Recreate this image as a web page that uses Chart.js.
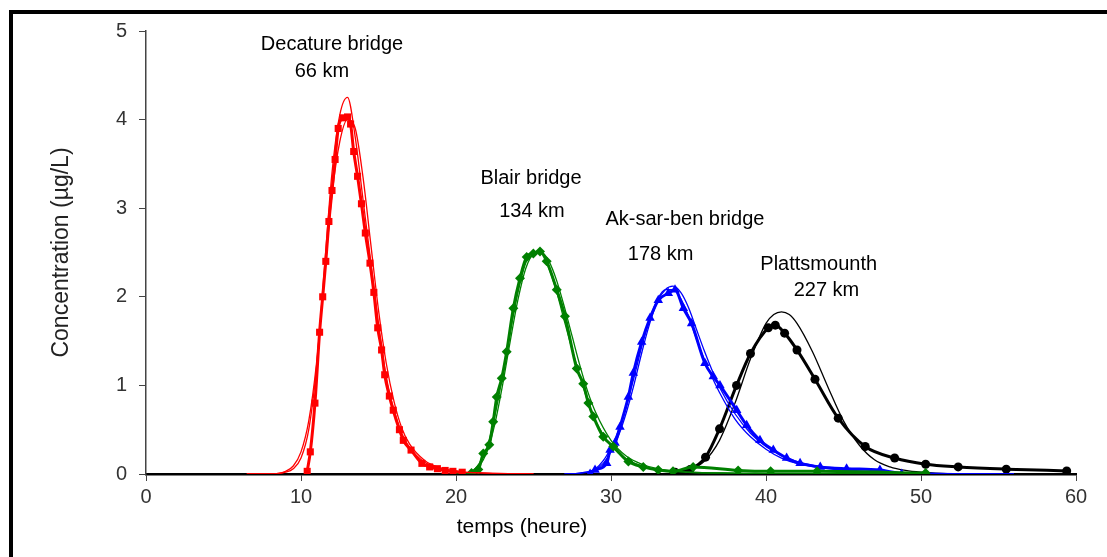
<!DOCTYPE html>
<html>
<head>
<meta charset="utf-8">
<script src="https://cdn.jsdelivr.net/npm/chart.js@4/dist/chart.umd.min.js"></script>
<style>
  body { margin: 0; background: #fff; }
  #wrap { position: relative; width: 1107px; height: 557px; overflow: hidden; }
  #cadre { position: absolute; left: 9px; top: 10px; width: 1200px; height: 700px;
           border-left: 4px solid #000; border-top: 4px solid #000; }
  #concChart { position: absolute; left: 0; top: 0; }
</style>
</head>
<body>
<div id="wrap">
  <div id="cadre"></div>
  <canvas id="concChart" width="1107" height="557"></canvas>
</div>
<script>
//Decature bridge (66 km) - mesures
const decTemps = [10.4, 10.6, 10.9, 11.2, 11.4, 11.6, 11.8, 12.0, 12.2, 12.4, 12.7, 13.0, 13.2, 13.4, 13.65, 13.9, 14.15, 14.45, 14.7, 14.95, 15.2, 15.4, 15.7, 15.95, 16.35, 16.6, 17.1, 17.8, 18.3, 18.8, 19.3, 19.8, 20.4];
const decConc = [0.03, 0.25, 0.8, 1.6, 2.0, 2.4, 2.85, 3.2, 3.55, 3.9, 4.02, 4.03, 3.95, 3.64, 3.36, 3.05, 2.72, 2.38, 2.05, 1.65, 1.4, 1.12, 0.88, 0.72, 0.5, 0.38, 0.27, 0.12, 0.08, 0.06, 0.04, 0.03, 0.02];
//Decature bridge - modeles
const decModTemps = [6.5, 8, 9, 9.5, 10, 10.5, 11, 11.5, 12, 12.5, 13, 13.5, 14, 14.5, 15, 15.5, 16, 16.5, 17, 18, 19, 20, 22, 25];
const decModA = [0, 0, 0.02, 0.06, 0.18, 0.5, 1.2, 2.3, 3.4, 4.05, 4.25, 3.8, 3.1, 2.4, 1.7, 1.1, 0.72, 0.46, 0.3, 0.13, 0.06, 0.03, 0.01, 0];
const decModB = [0, 0, 0.03, 0.09, 0.25, 0.6, 1.25, 2.2, 3.15, 3.75, 4.0, 3.9, 3.35, 2.6, 1.85, 1.25, 0.82, 0.52, 0.34, 0.15, 0.07, 0.03, 0.01, 0];

//Blair bridge (134 km)
const blairTemps = [21.0, 21.44, 21.76, 22.15, 22.4, 22.63, 22.95, 23.27, 23.7, 24.13, 24.56, 24.99, 25.42, 25.85, 26.5, 27.03, 27.79, 28.21, 28.54, 28.86, 29.5, 30.15, 31.12, 32.08, 33.05, 34.0, 35.3, 38.2, 40.3, 43.3, 50.3];
const blairConc = [0.01, 0.05, 0.23, 0.33, 0.59, 0.87, 1.08, 1.38, 1.87, 2.21, 2.45, 2.49, 2.51, 2.4, 2.08, 1.78, 1.19, 1.02, 0.8, 0.65, 0.42, 0.31, 0.14, 0.08, 0.045, 0.03, 0.08, 0.04, 0.03, 0.03, 0.01];
const blairModTemps = [20, 21, 21.5, 22, 22.5, 23, 23.5, 24, 24.5, 25, 25.5, 26, 26.5, 27, 27.5, 28, 28.5, 29, 30, 31, 32, 33, 35, 38, 42, 50];
const blairModA = [0, 0.03, 0.12, 0.3, 0.65, 1.1, 1.6, 2.05, 2.38, 2.5, 2.5, 2.32, 2.05, 1.72, 1.4, 1.1, 0.82, 0.6, 0.32, 0.17, 0.09, 0.05, 0.02, 0.01, 0, 0];
const blairModB = [0, 0.02, 0.09, 0.25, 0.56, 1.0, 1.5, 1.97, 2.32, 2.48, 2.5, 2.4, 2.18, 1.88, 1.55, 1.22, 0.93, 0.7, 0.38, 0.2, 0.11, 0.06, 0.02, 0.01, 0, 0];

//Ak-sar-ben bridge (178 km)
const aksarTemps = [28.65, 28.97, 29.72, 29.94, 30.26, 30.58, 31.12, 31.44, 31.98, 32.52, 33.05, 33.7, 34.13, 34.67, 35.2, 36.06, 36.6, 37.03, 38.11, 38.75, 39.61, 40.47, 41.33, 42.2, 43.5, 45.2, 47.35, 48.75];
const aksarConc = [0.0, 0.045, 0.12, 0.27, 0.35, 0.53, 0.87, 1.14, 1.49, 1.76, 1.96, 2.04, 2.08, 1.87, 1.7, 1.25, 1.1, 1.0, 0.72, 0.55, 0.38, 0.27, 0.18, 0.12, 0.08, 0.06, 0.045, 0.0];
const aksarModTemps = [27, 28, 29, 29.5, 30, 30.5, 31, 31.5, 32, 32.5, 33, 33.5, 34, 34.5, 35, 35.5, 36, 36.5, 37, 38, 39, 40, 41, 42, 44, 46, 50, 56];
const aksarModA = [0, 0.01, 0.06, 0.15, 0.3, 0.5, 0.78, 1.1, 1.45, 1.75, 1.97, 2.08, 2.08, 1.98, 1.78, 1.53, 1.3, 1.1, 0.92, 0.62, 0.42, 0.28, 0.18, 0.12, 0.06, 0.03, 0.01, 0];
const aksarModB = [0, 0.01, 0.05, 0.12, 0.25, 0.44, 0.7, 1.02, 1.38, 1.7, 1.95, 2.08, 2.12, 2.05, 1.88, 1.64, 1.4, 1.18, 0.98, 0.68, 0.46, 0.31, 0.21, 0.14, 0.07, 0.035, 0.01, 0];

//Plattsmounth (227 km)
const plattTemps = [34.13, 35.1, 36.1, 37.0, 38.1, 39.0, 40.15, 40.6, 41.2, 42.0, 43.16, 44.66, 46.4, 48.3, 50.3, 52.4, 55.5, 59.4];
const plattConc = [0.02, 0.05, 0.19, 0.51, 1.0, 1.36, 1.65, 1.68, 1.59, 1.4, 1.07, 0.63, 0.31, 0.18, 0.11, 0.08, 0.055, 0.035];
const plattModTemps = [33, 34, 35, 36, 37, 38, 39, 40, 40.5, 41, 41.5, 42, 43, 44, 45, 46, 47, 48, 49, 50, 52];
const plattModA = [0, 0, 0.04, 0.14, 0.38, 0.8, 1.3, 1.7, 1.8, 1.83, 1.8, 1.7, 1.38, 0.98, 0.6, 0.33, 0.16, 0.08, 0.04, 0.02, 0];

//Etiquettes des stations
const etiquettes = ["Decature bridge", "66 km", "Blair bridge", "134 km", "Ak-sar-ben bridge", "178 km", "Plattsmounth", "227 km"];
const etiqTemps = [12.0, 11.35, 24.84, 24.9, 34.77, 33.2, 43.4, 43.9];
const etiqConc = [4.85, 4.54, 3.34, 2.96, 2.87, 2.48, 2.37, 2.07];

const xTicks = [0, 10, 20, 30, 40, 50, 60];
const yTicks = [0, 1, 2, 3, 4, 5];

const police = "'Liberation Sans', Arial, sans-serif";

function toPoints(temps, conc) {
  return temps.map((t, i) => ({ x: t, y: conc[i] }));
}

function mesures(temps, conc, color, style, rayon) {
  return {
    data: toPoints(temps, conc),
    showLine: true,
    borderColor: color,
    backgroundColor: color,
    borderWidth: 3,
    pointStyle: style,
    pointRadius: rayon,
    pointBorderWidth: 0,
    cubicInterpolationMode: "monotone",
  };
}

function modele(temps, conc, color) {
  return {
    data: toPoints(temps, conc),
    showLine: true,
    borderColor: color,
    borderWidth: 1.3,
    pointRadius: 0,
    cubicInterpolationMode: "monotone",
  };
}

//Textes des stations + titre de l'axe x
const textes = {
  id: "textes",
  afterDatasetsDraw(chart) {
    const ctx = chart.ctx;
    const xs = chart.scales.x;
    const ys = chart.scales.y;
    ctx.save();
    ctx.fillStyle = "#000";
    ctx.font = "20px " + police;
    ctx.textAlign = "center";
    ctx.textBaseline = "middle";
    etiquettes.forEach((txt, i) => {
      ctx.fillText(txt, xs.getPixelForValue(etiqTemps[i]), ys.getPixelForValue(etiqConc[i]));
    });
    ctx.font = "21px " + police;
    ctx.fillText("temps (heure)", chart.chartArea.left + 376, chart.chartArea.bottom + 53);
    ctx.restore();
  },
};

const datasets = [
  modele(decModTemps, decModA, "#ff0000"),
  modele(decModTemps, decModB, "#ff0000"),
  mesures(decTemps, decConc, "#ff0000", "rect", 5),
  modele(blairModTemps, blairModA, "#008000"),
  modele(blairModTemps, blairModB, "#008000"),
  mesures(blairTemps, blairConc, "#008000", "rectRot", 5),
  modele(aksarModTemps, aksarModA, "#0000ff"),
  modele(aksarModTemps, aksarModB, "#0000ff"),
  mesures(aksarTemps, aksarConc, "#0000ff", "triangle", 5.5),
  modele(plattModTemps, plattModA, "#000000"),
  mesures(plattTemps, plattConc, "#000000", "circle", 4.5),
];

new Chart("concChart", {
  type: "scatter",
  data: { datasets },
  options: {
    responsive: false,
    animation: false,
    devicePixelRatio: 1,
    layout: { padding: { top: 31, right: 31, bottom: 0, left: 0 } },
    plugins: { legend: { display: false }, tooltip: { enabled: false } },
    scales: {
      x: {
        type: "linear",
        min: 0,
        max: 60,
        afterBuildTicks: (scale) => { scale.ticks = xTicks.map((v) => ({ value: v })); },
        afterFit: (scale) => { scale.height = 83; },
        grid: { drawOnChartArea: false, tickLength: 7, color: "#444" },
        border: { color: "#000", width: 2.5 },
        ticks: { color: "#333", padding: 4, maxRotation: 0, font: { family: police, size: 20 } },
      },
      y: {
        type: "linear",
        min: 0,
        max: 5,
        afterBuildTicks: (scale) => { scale.ticks = yTicks.map((v) => ({ value: v })); },
        afterFit: (scale) => { scale.width = 146; },
        grid: { drawOnChartArea: false, tickLength: 7, color: "#444" },
        border: { color: "#444", width: 1.5 },
        ticks: { color: "#333", padding: 12, font: { family: police, size: 20 } },
        title: {
          display: true,
          text: "Concentration (µg/L)",
          color: "#222",
          font: { family: police, size: 23 },
          padding: { top: 48, bottom: 0 },
        },
      },
    },
  },
  plugins: [textes],
});
</script>
</body>
</html>
